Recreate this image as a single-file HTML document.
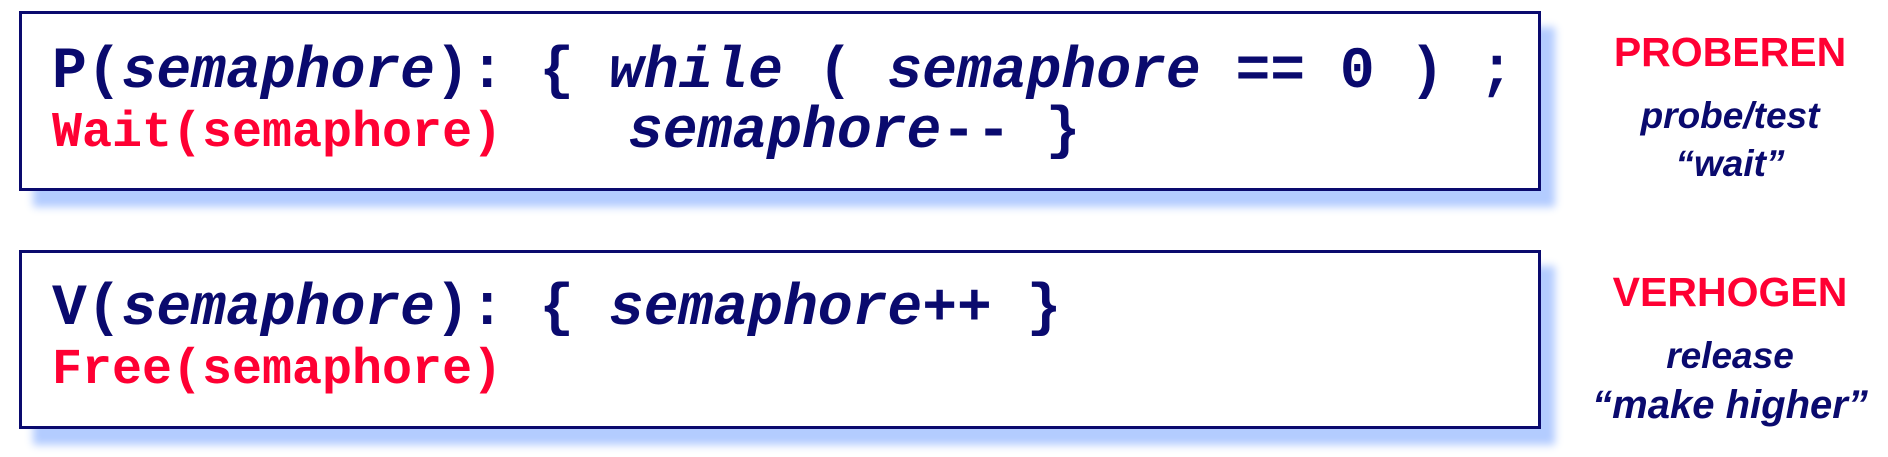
<!DOCTYPE html>
<html><head><meta charset="utf-8"><style>
body{margin:0;background:#fff;width:1888px;height:457px;position:relative;overflow:hidden}
.box{position:absolute;left:19px;width:1516px;border:3px solid #0a0a6e;background:#fff;box-shadow:14px 16px 8px #b3ccff}
.t{position:absolute;white-space:pre;font-family:"Liberation Mono","Courier New",monospace;font-weight:bold;font-size:58px;line-height:1}
.n{color:#0a0a6e}.r{color:#ff0033;font-size:50px}
i{font-style:italic}
.s{position:absolute;white-space:pre;font-family:"Liberation Sans",sans-serif;font-weight:bold;text-align:center;width:300px;left:1580px;line-height:1}
.si{font-style:italic;color:#0a0a6e;font-size:37px}
.sr{color:#ff0033;font-size:41px}
</style></head><body>
<div class="box" style="top:11px;height:174px"></div>
<div class="box" style="top:250px;height:173px"></div>
<div class="t n" style="left:52px;top:44px">P(<i>semaphore</i>): { <i>while</i> ( <i>semaphore</i> == 0 ) ;</div>
<div class="t r" style="left:52px;top:109px">Wait(semaphore)</div>
<div class="t n" style="left:628px;top:104px"><i>semaphore</i>-- }</div>
<div class="t n" style="left:52px;top:281px">V(<i>semaphore</i>): { <i>semaphore</i>++ }</div>
<div class="t r" style="left:52px;top:346px">Free(semaphore)</div>
<div class="s sr" style="top:32px">PROBEREN</div>
<div class="s si" style="top:97px">probe/test</div>
<div class="s si" style="top:145px">“wait”</div>
<div class="s sr" style="top:272px">VERHOGEN</div>
<div class="s si" style="top:337px">release</div>
<div class="s si" style="top:385px;font-size:40px">“make higher”</div>
</body></html>
